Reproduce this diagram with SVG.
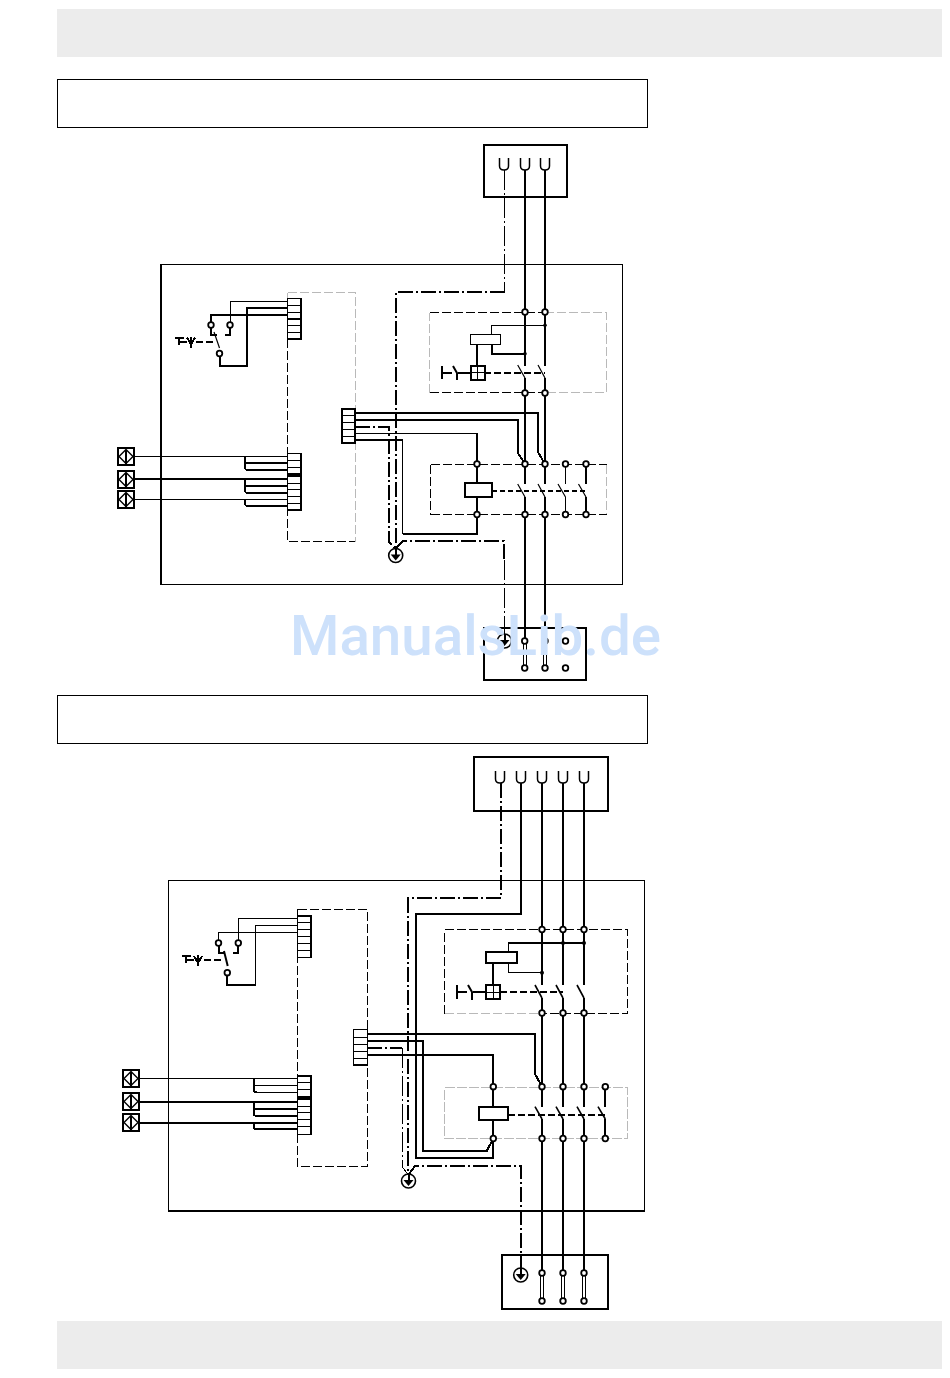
<svg xmlns="http://www.w3.org/2000/svg" width="950" height="1378" viewBox="0 0 950 1378">
<style>
.l{fill:none;stroke:#000;stroke-width:1;shape-rendering:crispEdges}
.t{fill:none;stroke:#000;stroke-width:2;shape-rendering:crispEdges}
.d{fill:none;stroke:#000;stroke-width:1;stroke-dasharray:9 3;shape-rendering:crispEdges}
.g{fill:none;stroke:#b9b9b9;stroke-width:1;stroke-dasharray:9 3;shape-rendering:crispEdges}
.a{fill:none;stroke:#000;stroke-width:2;stroke-dasharray:7 3;shape-rendering:crispEdges}
.dd{fill:none;stroke:#000;stroke-width:2;stroke-dasharray:15 3 2 3;shape-rendering:crispEdges}
.dt{fill:none;stroke:#000;stroke-width:1;stroke-dasharray:20 3 2 3;shape-rendering:crispEdges}
.b{fill:none;stroke:#000;stroke-width:1.2}
.bt{fill:none;stroke:#000;stroke-width:2}
.c{fill:#fff;stroke:#000;stroke-width:1.8}
.k{fill:#000}
.w{fill:#fff;stroke:#000;stroke-width:2;shape-rendering:crispEdges}
.band{fill:#ececec}
.wm{font-family:Roboto,"Liberation Sans",sans-serif;font-weight:500;font-size:55px;fill:#cde1fb}
</style>
<defs>
<g id="term"><rect x="0" y="0" width="16" height="17" class="w"/><path d="M8 1.5L15 8.5L8 15.5L1 8.5Z" class="bt" style="stroke-width:1.4"/><path d="M8 1.5V15.5" class="t"/></g>
<g id="u"><path d="M-4.5 0V8Q-4.5 12 0 12Q4.5 12 4.5 8V0" class="bt" style="stroke-width:1.5"/></g>
<g id="pe"><circle r="7" fill="#fff" stroke="#000" stroke-width="1.6"/><path d="M-5 -1H5L0 5Z" class="k"/><path d="M0 -7V0" class="t"/></g>
<g id="act"><path d="M0 0H9M4 0V7M4 4H12M16 -1V10M12 0L16 7L20 0" class="t"/></g>
<g id="cross"><rect x="0" y="0" width="14" height="14" class="w"/><path d="M7 0V14M0 7H14" class="l"/></g>
</defs>

<g id="header-band"><rect class="band" x="57" y="9" width="885" height="48"/></g>
<g id="footer-band"><rect class="band" x="57" y="1321" width="885" height="48"/></g>
<g id="title-box-1"><rect x="57.5" y="79.5" width="590" height="48" class="l"/></g>
<g id="title-box-2"><rect x="57.5" y="695.5" width="590" height="48" class="l"/></g>

<!-- ===== Diagram 1 ===== -->
<g id="d1-enclosure"><rect x="161.5" y="264.5" width="461" height="320" class="l"/><path d="M161 264V585" class="t"/></g>
<g id="d1-supply"><rect x="484" y="145" width="83" height="52" class="t"/>
<use href="#u" x="504" y="158"/><use href="#u" x="525" y="158"/><use href="#u" x="545" y="158"/></g>
<g id="d1-outlet"><rect x="484" y="628" width="102" height="52" class="t"/></g>
<g id="d1-control-frame"><path d="M287.5 292.5H355.5V541.5" class="g"/><path d="M287.5 292.5V339" class="g"/><path d="M287.5 339V541.5H355" class="d"/></g>
<g id="d1-frame-upper"><path d="M545 312.5H606.5V392.5H545" class="g"/><path d="M429.5 392.5V312.5" class="g"/><path d="M429.5 392.5H545M429.5 312.5H545" class="d"/></g>
<g id="d1-frame-lower"><path d="M606.5 464.5V514.5" class="g"/><path d="M430.5 464.5H606.5M430.5 514.5H606.5M430.5 464.5V514.5" class="d"/></g>

<g id="d1-connectors">
<path d="M287 301.5H230V325" class="l"/>
<path d="M287 308H246.5V366H219.5V354" class="t"/>
<path d="M287 315H211V325" class="t"/>
<path d="M211 325V335H217M230 325V335H225" class="t"/>
<path d="M214 332L219.5 348" class="b"/>
<path d="M196 342H216" class="a"/>
<path d="M134 456.5H287" class="l"/><path d="M245 456.5V467Q245 470 248 470H287M245 463H287" class="t"/>
<path d="M134 479H287" class="t"/><path d="M245 479V490Q245 493 248 493H287M245 486H287" class="t"/>
<path d="M134 499.5H287" class="l"/><path d="M245 499V503Q245 506 248 506H287" class="t"/>
<path d="M504.5 170V291" class="dt"/>
<path d="M504.5 291.5H396V549" class="dd"/>
<path d="M525 170V366M545 170V366" class="t"/>
<path d="M525 378V484M545 378V484M525 497V641M545 497V641" class="t"/>
<path d="M517.7 365L525 378M538 365L545 378M517.7 484L525 497M538 484L545 497M558 484L565.5 497M578.5 484L586 497" class="b"/>
<path d="M565.5 497V514.5M565.5 464V484" class="l"/><path d="M586 497V514.5M586 464V484" class="t"/>
<path d="M355 412.7H538.3V452.7L545 464M355 420H517.7V452.7L525 464" class="t"/>
<path d="M355 426.7H389V541.7L395.7 549" class="dd"/>
<path d="M355 433.5H477" class="l"/><path d="M477 433.3V464" class="t"/>
<path d="M355 440H402.7" class="t"/><path d="M402.5 440V534.3" class="l"/><path d="M402.7 534.3H477V514.5" class="t"/>
<path d="M477 464V483M477 497V514.5" class="t"/>
<path d="M395.7 549L402.7 541H504V560" class="dd"/><path d="M504.5 560V635" class="dt"/>
<path d="M491.7 334V325.5H545" class="l"/><path d="M491.7 344V353.7H525" class="t"/>
<path d="M477 344V365.5" class="t"/>
<path d="M484 372.7H545" class="a"/><path d="M443 372.7H452M458 372.7H470" class="t"/>
<path d="M441.7 366V379" class="t"/><path d="M453 366L457 373V380" class="t" style="shape-rendering:auto"/>
<path d="M491.5 491H586" class="a" style="stroke-width:1.4;stroke-dasharray:5 3"/>
<path d="M523.5 641V668M526 641V668M543.5 641V668M546 641V668" class="l"/>
</g>

<g id="d1-connector-top"><rect x="287.5" y="298.5" width="13.5" height="40.5" class="w" style="stroke-width:1.6"/><path d="M287.5 305.3H301M287.5 312H301M287.5 318.7H301M287.5 325.5H301M287.5 332.2H301" class="l"/><path d="M287.5 318.7H301" class="t"/></g>
<g id="d1-connector-probe-a"><rect x="287.5" y="453.5" width="13.5" height="20.5" class="w" style="stroke-width:1.4"/><path d="M287.5 460.3H301M287.5 467H301" class="l"/></g>
<g id="d1-connector-probe-b"><rect x="287.5" y="476" width="13.5" height="34" class="w" style="stroke-width:1.6"/><path d="M287.5 483H301M287.5 489.7H301M287.5 496.5H301M287.5 503.2H301" class="l"/></g>
<g id="d1-connector-mid"><rect x="341.7" y="408.5" width="13.6" height="34.5" class="w"/><path d="M341.7 415.5H355M341.7 422.3H355M341.7 429.2H355M341.7 436H355" class="l"/></g>
<g id="d1-terminals"><use href="#term" x="118" y="448"/><use href="#term" x="118" y="471"/><use href="#term" x="118" y="491"/></g>
<g id="d1-switch"><circle class="c" cx="211" cy="325" r="2.8"/><circle class="c" cx="230" cy="325" r="2.8"/><circle class="c" cx="219.5" cy="353.5" r="2.8"/><use href="#act" x="175" y="337.5"/></g>
<g id="d1-relay"><rect x="470.5" y="334.5" width="30" height="10" fill="#fff" stroke="#000" stroke-width="1" shape-rendering="crispEdges"/><use href="#cross" x="470.5" y="365.5"/>
<circle class="k" cx="545" cy="325.3" r="1.8"/><circle class="k" cx="525" cy="353.7" r="1.8"/></g>
<g id="d1-contactor"><rect x="464.5" y="483" width="27" height="14" class="w"/></g>
<g id="d1-nodes">
<circle class="c" cx="525" cy="312" r="2.8"/><circle class="c" cx="545" cy="312" r="2.8"/>
<circle class="c" cx="525" cy="393" r="2.8"/><circle class="c" cx="545" cy="393" r="2.8"/>
<circle class="c" cx="477" cy="464" r="2.8"/><circle class="c" cx="525" cy="464" r="2.8"/><circle class="c" cx="545" cy="464" r="2.8"/><circle class="c" cx="565.5" cy="464" r="2.8"/><circle class="c" cx="586" cy="464" r="2.8"/>
<circle class="c" cx="477" cy="514.5" r="2.8"/><circle class="c" cx="525" cy="514.5" r="2.8"/><circle class="c" cx="545" cy="514.5" r="2.8"/><circle class="c" cx="565.5" cy="514.5" r="2.8"/><circle class="c" cx="586" cy="514.5" r="2.8"/>
<use href="#pe" x="395.7" y="555.5"/><use href="#pe" x="504.5" y="641"/>
<circle class="c" cx="524.7" cy="641" r="2.8"/><circle class="c" cx="545" cy="641" r="2.8"/><circle class="c" cx="565.5" cy="641" r="2.8"/>
<circle class="c" cx="524.7" cy="668" r="2.8"/><circle class="c" cx="545" cy="668" r="2.8"/><circle class="c" cx="565.5" cy="668" r="2.8"/>
</g>

<!-- ===== Diagram 2 ===== -->
<g id="d2-enclosure"><rect x="168.5" y="880.5" width="476" height="330" class="l"/><path d="M168 1211H645" class="t" style="stroke-width:1.5"/></g>
<g id="d2-supply"><rect x="474" y="757" width="134" height="54" class="t"/>
<use href="#u" x="500" y="771"/><use href="#u" x="521" y="771"/><use href="#u" x="542" y="771"/><use href="#u" x="563" y="771"/><use href="#u" x="584" y="771"/></g>
<g id="d2-outlet"><rect x="502" y="1255" width="106" height="54" class="t"/></g>
<g id="d2-control-frame"><rect x="297.5" y="909.5" width="70" height="256.5" class="d"/></g>
<g id="d2-frame-upper"><path d="M444.5 1013.5H542" class="g"/><path d="M444.5 1013.5V929.5H627.5V1013.5H542" class="d"/></g>
<g id="d2-frame-lower"><path d="M444.5 1087.5H627.5V1138.5H444.5Z" fill="none" stroke="#b9b9b9" stroke-width="1" stroke-dasharray="10 2" shape-rendering="crispEdges"/></g>

<g id="d2-connectors">
<path d="M297 918.5H238.5V943" class="l"/>
<path d="M297 925.5H255.5V985" class="l"/><path d="M255.7 985H226.7V972.7" class="t"/>
<path d="M297 932.5H218.5V943" class="l"/>
<path d="M218.5 943V953H225M238.3 943V953H233" class="t"/>
<path d="M224 951L227.7 966" class="bt"/>
<path d="M204 960H224" class="a"/>
<path d="M139 1078.5H297.5M253.7 1085.5H297.5M253.7 1092.5H297.5" class="l"/><path d="M253.7 1078.3V1089Q253.7 1092 257 1092" class="t"/>
<path d="M139 1101.7H297.5M253.7 1101.7V1113Q253.7 1116 257 1116H297.5M253.7 1109H297.5" class="t"/>
<path d="M139 1122.7H297.5M253.7 1122.7V1126Q253.7 1129.3 257 1129.3H297.5" class="t"/>
<path d="M500.5 783V898H408.3V1175" class="dd"/>
<path d="M521 783V914H416V1158.3H493.3V1138.5" class="t"/>
<path d="M542 783V985M563 783V985M584 783V985" class="t"/>
<path d="M542 998V1106.7M563 998V1106.7M584 998V1106.7M542 1119V1273M563 1119V1273M584 1119V1273" class="t"/>
<path d="M535 985L542 998M556 985L563 998M577 985L584 998M535 1106.7L542 1119M556 1106.7L563 1119M577 1106.7L584 1119M598 1106.7L605.3 1119" class="bt" style="stroke-width:1.6"/>
<path d="M605.3 1086.7V1106.7M605.3 1119V1138.3" class="t"/>
<path d="M367 1034H535V1074L542 1086.7" class="t"/>
<path d="M367 1041H422.7V1151H486.7L493.3 1138.5" class="t"/>
<path d="M367 1048H402.3" class="dd"/><path d="M402.5 1048V1167L408.3 1175" class="dt"/>
<path d="M367 1055H493.3V1086.7" class="t"/>
<path d="M493.3 1086.7V1106.7M493.3 1120V1138.5" class="t"/>
<path d="M408.3 1175L415 1166H521V1270" class="dd"/>
<path d="M508.7 952V943H584" class="t" style="stroke-width:1.5"/><path d="M508.7 962.7V972.7H542" class="t" style="stroke-width:1.5"/>
<path d="M493.3 963V985" class="t"/>
<path d="M500 992H563" class="a"/><path d="M458 992H467M473 992H486" class="t"/>
<path d="M456.7 985V999" class="t"/><path d="M468 985L472 992V1000" class="t" style="shape-rendering:auto"/>
<path d="M507.7 1115H605" class="a"/>
<path d="M540.5 1273V1301M543.5 1273V1301M561.5 1273V1301M564.5 1273V1301M582.5 1273V1301M585.5 1273V1301" class="l"/>
</g>

<g id="d2-connector-top"><rect x="297.5" y="916" width="13.5" height="41.5" class="w" style="stroke-width:1.6"/><path d="M297.5 922.7H311M297.5 929.6H311M297.5 936.5H311M297.5 943.4H311M297.5 950.3H311" class="l"/></g>
<g id="d2-connector-probe-a"><rect x="297.5" y="1076" width="13.5" height="21" class="w" style="stroke-width:1.4"/><path d="M297.5 1082H311M297.5 1089.5H311" class="l"/></g>
<g id="d2-connector-probe-b"><rect x="297.5" y="1099" width="13.5" height="35.5" class="w" style="stroke-width:1.6"/><path d="M297.5 1106H311M297.5 1112.7H311M297.5 1119.5H311M297.5 1126.5H311" class="l"/></g>
<g id="d2-connector-mid"><rect x="353.5" y="1029.5" width="14" height="35.5" class="w" style="stroke-width:1.4"/><path d="M353.5 1037H367M353.5 1044H367M353.5 1051H367M353.5 1058H367" class="l"/></g>
<g id="d2-terminals"><use href="#term" x="123" y="1070"/><use href="#term" x="123" y="1093"/><use href="#term" x="123" y="1114"/></g>
<g id="d2-switch"><circle class="c" cx="218.5" cy="943" r="2.8"/><circle class="c" cx="238.3" cy="943" r="2.8"/><circle class="c" cx="227.3" cy="972.7" r="2.8"/><use href="#act" x="182" y="956"/></g>
<g id="d2-relay"><rect x="486" y="952" width="31" height="10.7" class="w"/><use href="#cross" x="486" y="985"/>
<circle class="k" cx="563" cy="943" r="2"/><circle class="k" cx="584" cy="943" r="2"/><circle class="k" cx="542" cy="972.7" r="2"/></g>
<g id="d2-contactor"><rect x="479" y="1106.7" width="28.7" height="13.3" class="w"/></g>
<g id="d2-nodes">
<circle class="c" cx="542" cy="929.5" r="2.8"/><circle class="c" cx="563" cy="929.5" r="2.8"/><circle class="c" cx="584" cy="929.5" r="2.8"/>
<circle class="c" cx="542" cy="1013" r="2.8"/><circle class="c" cx="563" cy="1013" r="2.8"/><circle class="c" cx="584" cy="1013" r="2.8"/>
<circle class="c" cx="493.3" cy="1086.7" r="2.8"/><circle class="c" cx="542" cy="1086.7" r="2.8"/><circle class="c" cx="563" cy="1086.7" r="2.8"/><circle class="c" cx="584" cy="1086.7" r="2.8"/><circle class="c" cx="605.3" cy="1086.7" r="2.8"/>
<circle class="c" cx="493.3" cy="1138.5" r="2.8"/><circle class="c" cx="542" cy="1138.5" r="2.8"/><circle class="c" cx="563" cy="1138.5" r="2.8"/><circle class="c" cx="584" cy="1138.5" r="2.8"/><circle class="c" cx="605.3" cy="1138.5" r="2.8"/>
<use href="#pe" x="408.5" y="1181"/><use href="#pe" x="520.7" y="1275"/>
<circle class="c" cx="542" cy="1273" r="2.8"/><circle class="c" cx="563" cy="1273" r="2.8"/><circle class="c" cx="584" cy="1273" r="2.8"/>
<circle class="c" cx="542" cy="1301" r="2.8"/><circle class="c" cx="563" cy="1301" r="2.8"/><circle class="c" cx="584" cy="1301" r="2.8"/>
</g>

<g id="watermark"><text class="wm" x="290" y="655" textLength="371" lengthAdjust="spacingAndGlyphs">ManualsLib.de</text></g>
</svg>
